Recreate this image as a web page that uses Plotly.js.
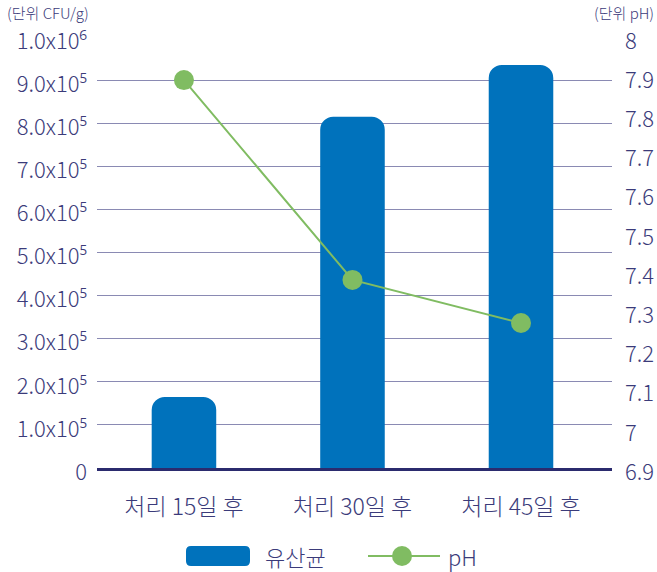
<!DOCTYPE html>
<html>
<head>
<meta charset="utf-8">
<script src="https://cdn.plot.ly/plotly-3.0.1.min.js"></script>
<style>html,body{margin:0;padding:0;background:#fff;}#chart{width:657px;height:572px;}</style>
</head>
<body>
<div id="chart"></div>
<script>
// ---- data ----
const categories = ["처리 15일 후", "처리 30일 후", "처리 45일 후"];
const bacteriaCFU = [165000, 815000, 935000];
const phValues = [7.89, 7.38, 7.27];
const seriesNames = ["유산균", "pH"];
const yTickVals = [0, 100000, 200000, 300000, 400000, 500000, 600000, 700000, 800000, 900000, 1000000];
const yTickText = ["0", "1.0x10⁵", "2.0x10⁵", "3.0x10⁵", "4.0x10⁵", "5.0x10⁵", "6.0x10⁵", "7.0x10⁵", "8.0x10⁵", "9.0x10⁵", "1.0x10⁶"];
const y2TickVals = [6.9, 7.0, 7.1, 7.2, 7.3, 7.4, 7.5, 7.6, 7.7, 7.8, 7.9, 8.0];
const y2TickText = ["6.9", "7", "7.1", "7.2", "7.3", "7.4", "7.5", "7.6", "7.7", "7.8", "7.9", "8"];
const unitLabels = ["(단위 CFU/g)", "(단위 pH)"];

// ---- styling ----
const FONT = '"Noto Sans CJK KR", "Noto Sans", sans-serif';
const TXT = '#3b3b7a';
const BAR = '#0072bc';
const GREEN = '#80bc62';
const W = 657, H = 572;
const M = {l: 97, r: 45, t: 37, b: 104};
const PW = W - M.l - M.r, PH = H - M.t - M.b;
const px = x => (x - M.l) / PW;
const py = y => (H - M.b - y) / PH;

function roundRectPath(x0, y0, x1, y1, r) {
  const X = v => px(v), Y = v => py(v);
  return [
    `M${X(x0 + r)},${Y(y0)}`, `L${X(x1 - r)},${Y(y0)}`,
    `Q${X(x1)},${Y(y0)} ${X(x1)},${Y(y0 + r)}`, `L${X(x1)},${Y(y1 - r)}`,
    `Q${X(x1)},${Y(y1)} ${X(x1 - r)},${Y(y1)}`, `L${X(x0 + r)},${Y(y1)}`,
    `Q${X(x0)},${Y(y1)} ${X(x0)},${Y(y1 - r)}`, `L${X(x0)},${Y(y0 + r)}`,
    `Q${X(x0)},${Y(y0)} ${X(x0 + r)},${Y(y0)}`, 'Z'
  ].join(' ');
}

const traces = [
  {
    type: 'bar', x: categories, y: bacteriaCFU, name: seriesNames[0],
    marker: {color: BAR, cornerradius: 13, line: {width: 0}},
    width: 0.383, yaxis: 'y', showlegend: false, hoverinfo: 'skip'
  },
  {
    type: 'scatter', mode: 'lines+markers', x: categories, y: phValues, name: seriesNames[1],
    line: {color: GREEN, width: 2},
    marker: {color: GREEN, size: 20},
    yaxis: 'y2', showlegend: false, hoverinfo: 'skip'
  }
];

const tf = s => ({family: FONT, size: s, color: TXT, weight: 300});

const layout = {
  width: W, height: H,
  margin: M,
  paper_bgcolor: '#fff', plot_bgcolor: '#fff',
  font: tf(20),
  xaxis: {
    type: 'category', range: [-0.516, 2.54],
    showgrid: false, zeroline: false,
    showline: true, linecolor: '#2b2b6e', linewidth: 3,
    ticks: '', tickfont: tf(23),
    ticklabelstandoff: 16
  },
  yaxis: {
    range: [0, 1000000], tickvals: yTickVals, ticktext: yTickText,
    showgrid: true, gridcolor: '#8a8ab3', gridwidth: 1,
    zeroline: false, showline: false, ticks: '',
    tickfont: tf(22),
    ticklabelstandoff: 9, ticklabelshift: 4
  },
  yaxis2: {
    overlaying: 'y', side: 'right', range: [6.9, 8.0],
    tickvals: y2TickVals, ticktext: y2TickText,
    showgrid: false, zeroline: false, showline: false, ticks: '',
    tickfont: tf(22),
    ticklabelstandoff: 12, ticklabelshift: 4
  },
  shapes: [
    {type: 'path', xref: 'paper', yref: 'paper', path: roundRectPath(186, 546, 250, 566, 5),
     fillcolor: BAR, line: {width: 0}},
    {type: 'line', xref: 'paper', yref: 'paper', x0: px(368), x1: px(440), y0: py(556), y1: py(556),
     line: {color: GREEN, width: 2}},
    {type: 'circle', xref: 'paper', yref: 'paper', x0: px(392), x1: px(412), y0: py(566), y1: py(546),
     fillcolor: GREEN, line: {width: 0}}
  ],
  annotations: [
    {xref: 'paper', yref: 'paper', x: px(5), y: py(13), xanchor: 'left', yanchor: 'middle',
     text: unitLabels[0], showarrow: false, font: tf(15)},
    {xref: 'paper', yref: 'paper', x: px(656), y: py(13), xanchor: 'right', yanchor: 'middle',
     text: unitLabels[1], showarrow: false, font: tf(15)},
    {xref: 'paper', yref: 'paper', x: px(263), y: py(556), xanchor: 'left', yanchor: 'middle',
     text: seriesNames[0], showarrow: false, font: tf(22)},
    {xref: 'paper', yref: 'paper', x: px(446), y: py(556), xanchor: 'left', yanchor: 'middle',
     text: seriesNames[1], showarrow: false, font: tf(22)}
  ],
  showlegend: false
};

Plotly.newPlot('chart', traces, layout, {displayModeBar: false, staticPlot: true});
</script>
</body>
</html>
